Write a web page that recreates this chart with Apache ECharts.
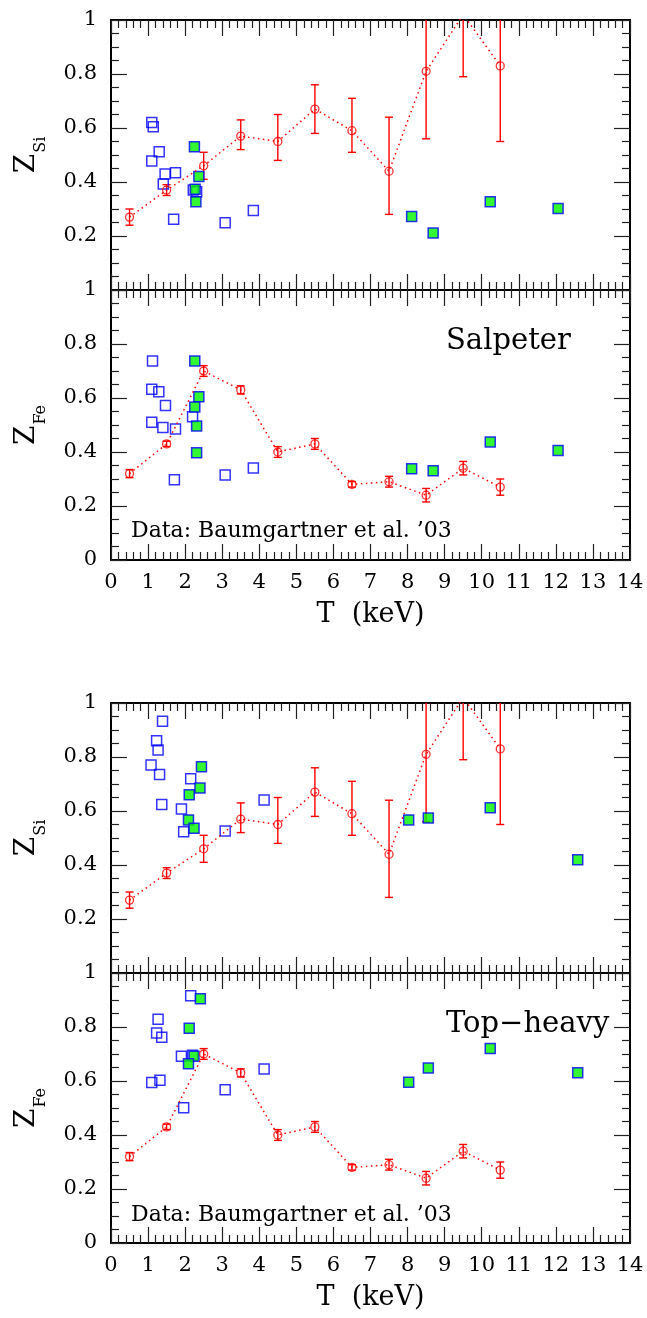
<!DOCTYPE html>
<html><head><meta charset="utf-8">
<script src="https://cdn.jsdelivr.net/npm/echarts@6/dist/echarts.min.js"></script>
<style>html,body{margin:0;padding:0;background:#fff}#c{width:647px;height:1318px}</style>
</head><body><div id="c"></div>
<script>
// Observations (Baumgartner et al. '03)
const T_OBS  = [0.5, 1.5, 2.5, 3.5, 4.5, 5.5, 6.5, 7.5, 8.5, 9.5, 10.5];
const SI_OBS = [0.27, 0.37, 0.46, 0.57, 0.55, 0.67, 0.59, 0.44, 0.81, 1.02, 0.83];
const SI_LO  = [0.24, 0.35, 0.41, 0.52, 0.48, 0.58, 0.51, 0.28, 0.56, 0.79, 0.55];
const SI_HI  = [0.30, 0.39, 0.51, 0.63, 0.65, 0.76, 0.71, 0.64, 1.06, 1.25, 1.11];
const FE_OBS = [0.32, 0.43, 0.70, 0.63, 0.40, 0.43, 0.28, 0.29, 0.24, 0.34, 0.27];
const FE_ERR = [0.015, 0.01, 0.02, 0.015, 0.02, 0.02, 0.01, 0.02, 0.025, 0.025, 0.03];

// Salpeter model clusters [T, Z]
const SALP_SI_OPEN = [[1.10,0.62],[1.14,0.605],[1.10,0.478],[1.30,0.512],[1.46,0.43],[1.74,0.434],[1.41,0.393],[1.69,0.262],[2.22,0.370],[2.31,0.364],[3.08,0.249],[3.84,0.294]];
const SALP_SI_FILL = [[2.25,0.531],[2.37,0.42],[2.27,0.373],[2.29,0.327],[8.11,0.272],[8.69,0.211],[10.23,0.327],[12.06,0.302]];
const SALP_FE_OPEN = [[1.12,0.737],[1.10,0.632],[1.29,0.623],[1.47,0.572],[1.10,0.51],[1.40,0.491],[1.74,0.485],[2.20,0.531],[1.71,0.297],[3.08,0.315],[3.84,0.341]];
const SALP_FE_FILL = [[2.26,0.737],[2.37,0.605],[2.26,0.567],[2.31,0.496],[2.31,0.397],[8.11,0.338],[8.69,0.331],[10.23,0.437],[12.06,0.406]];

// Top-heavy model clusters [T, Z]
const TH_SI_OPEN = [[1.39,0.932],[1.23,0.860],[1.27,0.826],[1.08,0.770],[1.31,0.735],[1.37,0.624],[2.15,0.719],[1.90,0.607],[1.96,0.523],[3.08,0.526],[4.13,0.641]];
const TH_SI_FILL = [[2.44,0.764],[2.40,0.685],[2.11,0.66],[2.09,0.567],[2.24,0.536],[8.03,0.567],[8.56,0.574],[10.23,0.612],[12.59,0.419]];
const TH_FE_OPEN = [[2.15,0.916],[1.27,0.829],[1.23,0.778],[1.37,0.762],[1.90,0.692],[2.20,0.695],[1.10,0.594],[1.32,0.603],[1.96,0.501],[3.08,0.568],[4.13,0.644]];
const TH_FE_FILL = [[2.41,0.905],[2.11,0.795],[2.24,0.692],[2.09,0.664],[8.03,0.595],[8.56,0.648],[10.23,0.720],[12.59,0.631]];

const X_TICKS = {min: 0, max: 14, interval: 1};
const Y_TICKS = {min: 0, max: 1, interval: 0.2};

const FONT = 'DejaVu Serif';
const RED = '#ff0000', BLUE = '#0000ff', GREEN = '#00f500';

const panels = [
  {top: 20,  el: 'Si', xLabels: false, open: SALP_SI_OPEN, fill: SALP_SI_FILL},
  {top: 290, el: 'Fe', xLabels: true,  open: SALP_FE_OPEN, fill: SALP_FE_FILL},
  {top: 703, el: 'Si', xLabels: false, open: TH_SI_OPEN,   fill: TH_SI_FILL},
  {top: 973, el: 'Fe', xLabels: true,  open: TH_FE_OPEN,   fill: TH_FE_FILL}
];

const tickStyle = {color: '#222', width: 1.2};
const grids = [], xAxes = [], yAxes = [], series = [];

panels.forEach((p, i) => {
  grids.push({left: 111, width: 519, top: p.top, height: 270, outerBoundsMode: 'none', containLabel: false});
  const xCommon = {
    type: 'value', gridIndex: i, min: X_TICKS.min, max: X_TICKS.max, interval: X_TICKS.interval,
    axisLine: {show: true, onZero: false, lineStyle: {color: '#000', width: 2}},
    axisTick: {show: true, inside: true, length: 16, lineStyle: tickStyle},
    minorTick: {show: true, splitNumber: 5, length: 8, lineStyle: tickStyle},
    splitLine: {show: false}, minorSplitLine: {show: false}
  };
  xAxes.push(Object.assign({}, xCommon, {
    position: 'bottom',
    axisLabel: {show: p.xLabels, margin: 12, fontFamily: FONT, fontSize: 21, color: '#000'},
    name: p.xLabels ? 'T  (keV)' : '', nameLocation: 'middle', nameGap: 41, nameMoveOverlap: false,
    nameTextStyle: {fontFamily: FONT, fontSize: 27, color: '#000'}
  }));
  xAxes.push(Object.assign({}, xCommon, {position: 'top', axisLabel: {show: false}}));

  const yCommon = {
    type: 'value', gridIndex: i, min: Y_TICKS.min, max: Y_TICKS.max, interval: Y_TICKS.interval,
    axisLine: {show: true, onZero: false, lineStyle: {color: '#000', width: 2}},
    axisTick: {show: true, inside: true, length: 16, lineStyle: tickStyle},
    minorTick: {show: true, splitNumber: 4, length: 8, lineStyle: tickStyle},
    splitLine: {show: false}, minorSplitLine: {show: false}
  };
  const hideZero = p.el === 'Si';
  yAxes.push(Object.assign({}, yCommon, {
    position: 'left',
    axisLabel: {show: true, margin: 14, fontFamily: FONT, fontSize: 21, color: '#000',
      formatter: v => (hideZero && v === 0) ? '' : String(+v.toFixed(1))},
    name: '{z|Z}{s|' + p.el + '}', nameLocation: 'middle', nameRotate: 90, nameGap: 70, nameMoveOverlap: false,
    nameTextStyle: {rich: {
      z: {fontFamily: FONT, fontSize: 28, lineHeight: 28, verticalAlign: 'top', color: '#000'},
      s: {fontFamily: FONT, fontSize: 16, lineHeight: 16, verticalAlign: 'top', padding: [20, 0, 0, 1], color: '#000'}
    }}
  }));
  yAxes.push(Object.assign({}, yCommon, {position: 'right', axisLabel: {show: false}}));

  const xi = 2 * i, yi = 2 * i;
  series.push({
    type: 'scatter', xAxisIndex: xi, yAxisIndex: yi, data: p.open, symbol: 'rect', symbolSize: 10,
    itemStyle: {color: 'rgba(0,0,0,0)', borderColor: BLUE, borderWidth: 1.5}, silent: true
  });
  series.push({
    type: 'scatter', xAxisIndex: xi, yAxisIndex: yi, data: p.fill, symbol: 'rect', symbolSize: 10,
    itemStyle: {color: GREEN, borderColor: BLUE, borderWidth: 1.5}, silent: true
  });
  const obs = p.el === 'Si' ? SI_OBS : FE_OBS;
  const lo = p.el === 'Si' ? SI_LO : FE_OBS.map((v, k) => v - FE_ERR[k]);
  const hi = p.el === 'Si' ? SI_HI : FE_OBS.map((v, k) => v + FE_ERR[k]);
  series.push({
    type: 'custom', xAxisIndex: xi, yAxisIndex: yi, clip: true, silent: true,
    data: T_OBS.map((t, k) => [t, lo[k], hi[k]]),
    renderItem: (params, api) => {
      const a = api.coord([api.value(0), api.value(1)]);
      const b = api.coord([api.value(0), api.value(2)]);
      const c = 4, st = {stroke: RED, lineWidth: 1.4};
      return {type: 'group', children: [
        {type: 'line', shape: {x1: a[0], y1: a[1], x2: b[0], y2: b[1]}, style: st},
        {type: 'line', shape: {x1: a[0] - c, y1: a[1], x2: a[0] + c, y2: a[1]}, style: st},
        {type: 'line', shape: {x1: b[0] - c, y1: b[1], x2: b[0] + c, y2: b[1]}, style: st}
      ]};
    }
  });
  const pts = T_OBS.map((t, k) => [t, obs[k]]);
  series.push({
    type: 'line', xAxisIndex: xi, yAxisIndex: yi, data: pts, symbol: 'none', silent: true, clip: true,
    lineStyle: {color: RED, width: 1.5, type: [1.5, 3.5]}
  });
  series.push({
    type: 'scatter', xAxisIndex: xi, yAxisIndex: yi, data: pts, symbol: 'circle', symbolSize: 8, clip: true,
    itemStyle: {color: 'rgba(0,0,0,0)', borderColor: RED, borderWidth: 1.3}, silent: true
  });
});

const txt = (x, y, s, size) => ({
  type: 'text', x: x, y: y, silent: true,
  style: {text: s, font: size + 'px "' + FONT + '"', fill: '#000', align: 'left', verticalAlign: 'middle'}
});

const chart = echarts.init(document.getElementById('c'), null, {renderer: 'canvas'});
chart.setOption({
  animation: false,
  backgroundColor: '#fff',
  textStyle: {fontFamily: FONT},
  grid: grids, xAxis: xAxes, yAxis: yAxes, series: series,
  graphic: [
    txt(446, 341, 'Salpeter', 29),
    txt(131, 531, 'Data: Baumgartner et al. \u201903', 22),
    txt(446, 1024, 'Top\u2212heavy', 29),
    txt(131, 1215, 'Data: Baumgartner et al. \u201903', 22)
  ]
});
</script></body></html>
